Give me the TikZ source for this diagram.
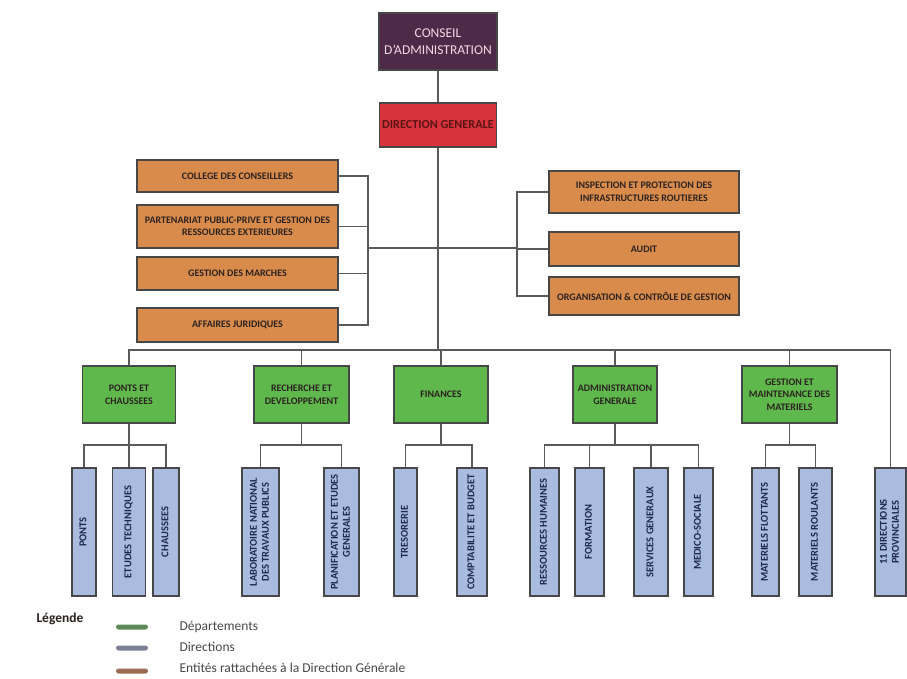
\documentclass[tikz,border=0pt]{standalone}
\usepackage{fontspec}
\setmainfont{Carlito}
\definecolor{caFill}{HTML}{4D2A47}
\definecolor{caText}{HTML}{F2D9E6}
\definecolor{dgFill}{HTML}{D8333D}
\definecolor{dgText}{HTML}{5A1414}
\definecolor{orFill}{HTML}{D98B4B}
\definecolor{grFill}{HTML}{5FB84B}
\definecolor{blFill}{HTML}{A9BBDF}
\definecolor{boxLine}{HTML}{474747}
\definecolor{linkCol}{HTML}{5A5A5A}
\definecolor{darkText}{HTML}{2B2220}
\definecolor{navyText}{HTML}{1E2850}
\definecolor{legGreen}{HTML}{5E8C58}
\definecolor{legGray}{HTML}{7C8096}
\definecolor{legBrown}{HTML}{9C6C52}
\definecolor{legText}{HTML}{474747}
\newcommand{\vtext}[1]{\rotatebox{90}{\begin{tabular}{@{}c@{}}#1\end{tabular}}}
\begin{document}
\begin{tikzpicture}[x=1pt,y=-1pt,
  box/.style={draw=boxLine, line width=1.7pt, inner sep=1pt, align=center,
    font=\fontsize{10}{12.5}\selectfont\bfseries},
  orbox/.style={box, fill=orFill, text=darkText},
  grbox/.style={box, fill=grFill, text=darkText, minimum height=57pt},
  blbox/.style={box, fill=blFill, text=navyText, minimum height=128pt,
    font=\fontsize{10.5}{12}\selectfont\bfseries},
  link/.style={draw=linkCol, line width=1.2pt},
  swatch/.style={fill=#1, rounded corners=2.5pt, minimum width=32pt, minimum height=5pt, inner sep=0pt},
  legtext/.style={anchor=west, text=legText, font=\fontsize{13.5}{15}\selectfont}]
\useasboundingbox (0,0) rectangle (907,678);
\fill[white] (0,0) rectangle (907,678);

% top of the hierarchy
\node[box, fill=caFill, text=caText, minimum width=118pt, minimum height=57pt,
  font=\fontsize{13.5}{17}\selectfont] (ca) at (438,41.5) {CONSEIL\\D'ADMINISTRATION};
\node[box, fill=dgFill, text=dgText, minimum width=117pt, minimum height=44pt,
  font=\fontsize{12.2}{14}\selectfont\bfseries] (dg) at (438,125) {DIRECTION GENERALE};

% entities attached to the general direction (left)
\node[orbox, minimum width=201pt, minimum height=32pt] (o1) at (237.5,176) {COLLEGE DES CONSEILLERS};
\node[orbox, minimum width=201pt, minimum height=43pt] (o2) at (237.5,226.5) {PARTENARIAT PUBLIC-PRIVE ET GESTION DES\\RESSOURCES EXTERIEURES};
\node[orbox, minimum width=201pt, minimum height=33pt] (o3) at (237.5,273.5) {GESTION DES MARCHES};
\node[orbox, minimum width=201pt, minimum height=34pt] (o4) at (237.5,325) {AFFAIRES JURIDIQUES};

% entities attached to the general direction (right)
\node[orbox, minimum width=190pt, minimum height=42pt] (r1) at (644,192) {INSPECTION ET PROTECTION DES\\INFRASTRUCTURES ROUTIERES};
\node[orbox, minimum width=190pt, minimum height=34pt] (r2) at (644,249) {AUDIT};
\node[orbox, minimum width=190pt, minimum height=38pt] (r3) at (644,296) {ORGANISATION \& CONTR\^OLE DE GESTION};

% departments
\node[grbox, minimum width=93pt] (g1) at (129,394.5) {PONTS ET\\CHAUSSEES};
\node[grbox, minimum width=95pt] (g2) at (301.5,394.5) {RECHERCHE ET\\DEVELOPPEMENT};
\node[grbox, minimum width=94pt] (g3) at (441,394.5) {FINANCES};
\node[grbox, minimum width=84pt] (g4) at (615,394.5) {ADMINISTRATION\\GENERALE};
\node[grbox, minimum width=95pt] (g5) at (789.5,394.5) {GESTION ET\\MAINTENANCE DES\\MATERIELS};

% directions
\node[blbox, minimum width=24pt] (b1) at (84,532) {\vtext{PONTS}};
\node[blbox, minimum width=33pt] (b2) at (129,532) {\vtext{ETUDES TECHNIQUES}};
\node[blbox, minimum width=26pt] (b3) at (166,532) {\vtext{CHAUSSEES}};
\node[blbox, minimum width=37pt] (b4) at (260.5,532) {\vtext{LABORATOIRE NATIONAL\\DES TRAVAUX PUBLICS}};
\node[blbox, minimum width=35pt] (b5) at (341.5,532) {\vtext{PLANIFICATION ET ETUDES\\GENERALES}};
\node[blbox, minimum width=23pt] (b6) at (405.5,532) {\vtext{TRESORERIE}};
\node[blbox, minimum width=30pt] (b7) at (472,532) {\vtext{COMPTABILITE ET BUDGET}};
\node[blbox, minimum width=29pt] (b8) at (544.5,532) {\vtext{RESSOURCES HUMAINES}};
\node[blbox, minimum width=29pt] (b9) at (589.5,532) {\vtext{FORMATION}};
\node[blbox, minimum width=34pt] (b10) at (651,532) {\vtext{SERVICES GENERAUX}};
\node[blbox, minimum width=29pt] (b11) at (698.5,532) {\vtext{MEDICO-SOCIALE}};
\node[blbox, minimum width=27pt] (b12) at (765.5,532) {\vtext{MATERIELS FLOTTANTS}};
\node[blbox, minimum width=33pt] (b13) at (815.5,532) {\vtext{MATERIELS ROULANTS}};
\node[blbox, minimum width=31pt] (b14) at (890.5,532) {\vtext{11 DIRECTIONS\\PROVINCIALES}};

% junction points
\coordinate (lbr) at (368,248);
\coordinate (rbr) at (517,248);
\coordinate (bus) at (438,350);
\coordinate (lvl) at (0,445);

% connectors
\draw[link] (ca) -- (dg);
\draw[link] (dg) -- (bus);
\draw[link] (lbr) -- (rbr);
\draw[link] (o1.east) -| (lbr);
\draw[link] (o2.east) -| (lbr);
\draw[link] (o3.east) -| (lbr);
\draw[link] (o4.east) -| (lbr);
\draw[link] (r1.west) -| (rbr);
\draw[link] (r2.west) -| (rbr);
\draw[link] (r3.west) -| (rbr);

\draw[link] (g1.north) |- (bus) -| (b14.north);
\draw[link] (g2.north) -- (g2.north |- bus);
\draw[link] (g4.north) -- (g4.north |- bus);
\draw[link] (g5.north) -- (g5.north |- bus);
\draw[link] (g3.north) -- (g3.north |- bus);

\draw[link] (g1.south) -- (g1.south |- lvl);
\draw[link] (b1.north) |- (b3.north |- lvl) -- (b3.north);
\draw[link] (b2.north) -- (b2.north |- lvl);

\draw[link] (g2.south) -- (g2.south |- lvl);
\draw[link] (b4.north) |- (b5.north |- lvl) -- (b5.north);

\draw[link] (g3.south) -- (g3.south |- lvl);
\draw[link] (b6.north) |- (b7.north |- lvl) -- (b7.north);

\draw[link] (g4.south) -- (g4.south |- lvl);
\draw[link] (b8.north) |- (b11.north |- lvl) -- (b11.north);
\draw[link] (b9.north) -- (b9.north |- lvl);
\draw[link] (b10.north) -- (b10.north |- lvl);

\draw[link] (g5.south) -- (g5.south |- lvl);
\draw[link] (b12.north) |- (b13.north |- lvl) -- (b13.north);

% legend
\node[anchor=west, text=darkText, font=\fontsize{13.5}{15}\selectfont\bfseries] (leg) at (33,619) {Légende};
\node[swatch=legGreen] (s1) at (132,627) {};
\node[swatch=legGray] (s2) at (132,648) {};
\node[swatch=legBrown] (s3) at (132,671) {};
\node[legtext] (t1) at (176,627) {Départements};
\node[legtext] (t2) at (176,647) {Directions};
\node[legtext] (t3) at (176,668) {Entités rattachées à la Direction Générale};
\end{tikzpicture}
\end{document}
